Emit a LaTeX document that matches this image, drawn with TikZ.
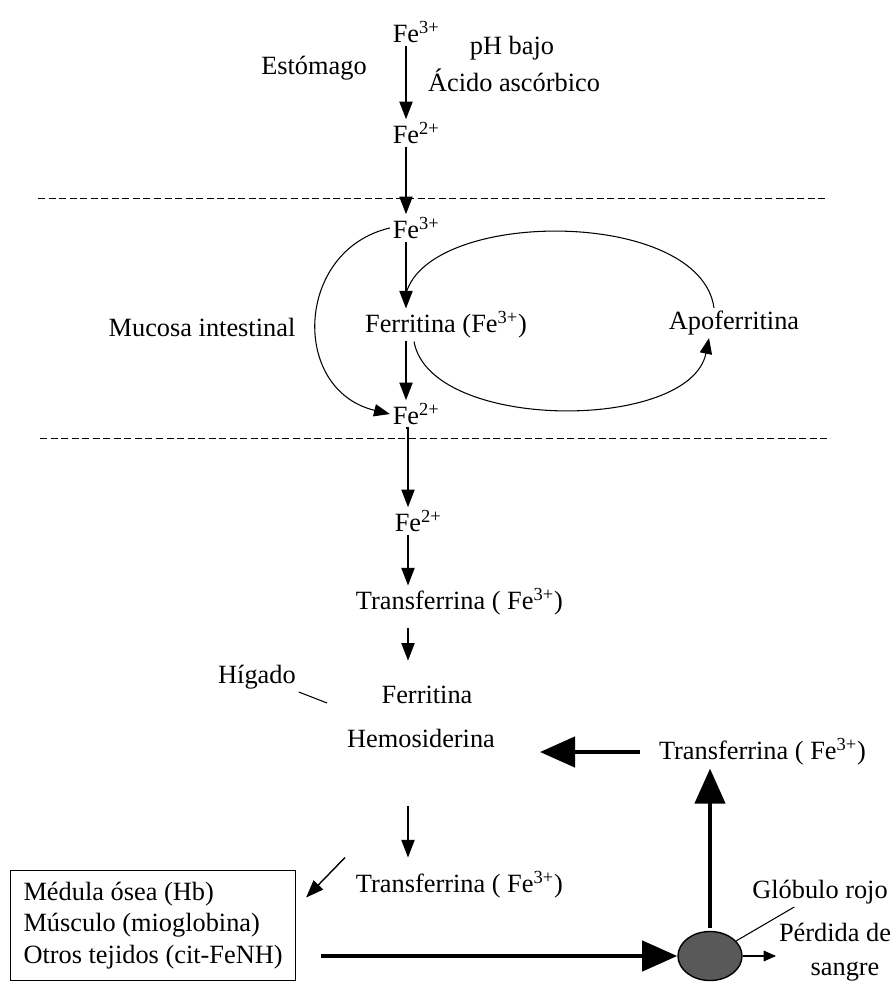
\documentclass[tikz,border=0pt]{standalone}
\usepackage{fontspec}
\setmainfont{Liberation Serif}
\usetikzlibrary{arrows.meta,positioning,shapes.geometric}

\tikzset{
  lbl/.style={inner sep=1.5pt,font=\fontsize{15}{18}\selectfont},
  arr/.style={-{Triangle[length=10pt,width=7.5pt]},line width=0.8pt},
  curvearr/.style={-{Triangle[length=9pt,width=7pt]},line width=0.6pt},
  bigarr/.style={-{Triangle[length=20pt,width=17pt]},line width=2.8pt},
  smallarr/.style={-{Triangle[length=7pt,width=6pt]},line width=0.8pt},
  sepline/.style={dash pattern=on 4pt off 2pt,line width=0.5pt},
}
\newcommand{\fesup}[1]{Fe\rlap{\textsuperscript{#1}}}

\begin{document}
\begin{tikzpicture}[x=0.02cm,y=-0.02cm]
\useasboundingbox (0,0) rectangle (893,982);

%%%%%%%%%%%%%%%%%%%%%%%%%%%% estomago
\node [lbl] (fe1) at (406,32) {\fesup{3+}};
\node [lbl] (fe1-2) at (314,68) {Estómago};
\node [lbl] (fe1-3) at (512,48) {pH bajo};
\node [lbl] (fe1-4) at (514,80) {Ácido ascórbico};
\node [lbl] (fe2) at (406,133) {\fesup{2+}};
\draw [arr](fe1.south)--(fe2.north);

\coordinate (sep1-l) at (38,198);
\coordinate (sep1-r) at (826,198);
\draw [sepline](sep1-l)--(sep1-r);

%%%%%%%%%%%%%%%%%%%%%%%%%%%% mucosa
\node [lbl] (fe3) at (406,228) {\fesup{3+}};
\draw [arr](fe2.south)--(fe3.north);
\node [lbl] (ferr) at (446,325) {Ferritina (Fe\textsuperscript{3+})};
\node [lbl] (muc) at (202,327) {Mucosa intestinal};
\node [lbl] (apo) at (734,323) {Apoferritina};
\node [lbl] (fe4) at (406,414) {\fesup{2+}};
\coordinate (ferr-in) at (fe3.south |- ferr.north);
\draw [arr](fe3.south)--(ferr-in);
\draw [arr](fe3.south |- ferr.south)--(fe4.north);
\draw [curvearr](fe3.west) .. controls (295,250) and (290,390) .. (fe4.west);
\draw [curvearr]([xshift=-0.64cm]ferr.south) .. controls (430,432) and (690,432) .. ([xshift=-0.5cm]apo.south);
\draw [line width=0.6pt]([xshift=-0.4cm]apo.north) .. controls (700,208) and (430,208) .. ([yshift=0.3cm]ferr-in);

\coordinate (sep2-l) at (40,438);
\coordinate (sep2-r) at (828,438);
\draw [sepline](sep2-l)--(sep2-r);

%%%%%%%%%%%%%%%%%%%%%%%%%%%% sangre
\node [lbl] (fe5) at (408,521) {\fesup{2+}};
\draw [arr](fe4.south)--(fe5.south |- fe4.south) -- (fe5.north);
\node [lbl,anchor=west] (tf1) at (353,602) {Transferrina ( Fe\textsuperscript{3+})};
\draw [arr](fe5.south)--(fe5.south |- tf1.north);

\node [lbl] (ferr2) at (427,695) {Ferritina};
\node [lbl] (hemo) at (421,738) {Hemosiderina};
\draw [arr,shorten <=0.2cm,shorten >=0.45cm](fe5.south |- tf1.south)--(fe5.south |- ferr2.north);
\node [lbl] (hig) at (257,677) {Hígado};
\coordinate (hig-e) at (327,703);
\draw [line width=0.6pt](hig.south east)--(hig-e);

\node [lbl,anchor=west] (tf2) at (656,752) {Transferrina ( Fe\textsuperscript{3+})};
\draw [bigarr,shorten <=0.32cm,shorten >=0.84cm](tf2.west)--(tf2.west -| hemo.east);

%%%%%%%%%%%%%%%%%%%%%%%%%%%% tejidos
\node [lbl,anchor=west] (tf3) at (353,885) {Transferrina ( Fe\textsuperscript{3+})};
\draw [arr,shorten <=1.12cm,shorten >=0.22cm](fe5.south |- hemo.south)--(fe5.south |- tf3.north);

\node [lbl,draw,line width=0.6pt,anchor=north west,align=left,inner xsep=0.26cm,inner ysep=0.2cm,
       minimum width=5.7cm,minimum height=2.2cm] (box) at (10,870)
  {Médula ósea (Hb)\\Músculo (mioglobina)\\Otros tejidos (cit-FeNH)};
\draw [arr]([xshift=-0.16cm,yshift=0.22cm]tf3.north west)--([xshift=0.2cm,yshift=-0.55cm]box.north east);

\node [ellipse,draw,line width=0.8pt,fill=black!65,minimum width=1.28cm,minimum height=0.98cm,inner sep=0pt] (rbc) at (710,956) {};
\draw [bigarr,shorten <=0.5cm](box.east |- rbc.west)--(rbc.west);
\draw [bigarr,shorten <=0.05cm](rbc.north)--(rbc.north |- tf2.south);

\node [lbl] (glob) at (820,892) {Glóbulo rojo};
\draw [line width=0.6pt](rbc.30)--([xshift=0.9cm]glob.south west);
\node [lbl] (perd) at (835,932) {Pérdida de};
\node [lbl] (perd-2) at (845,972) {sangre};
\draw [smallarr](rbc.east)--(rbc.east -| perd.west);

\end{tikzpicture}
\end{document}
